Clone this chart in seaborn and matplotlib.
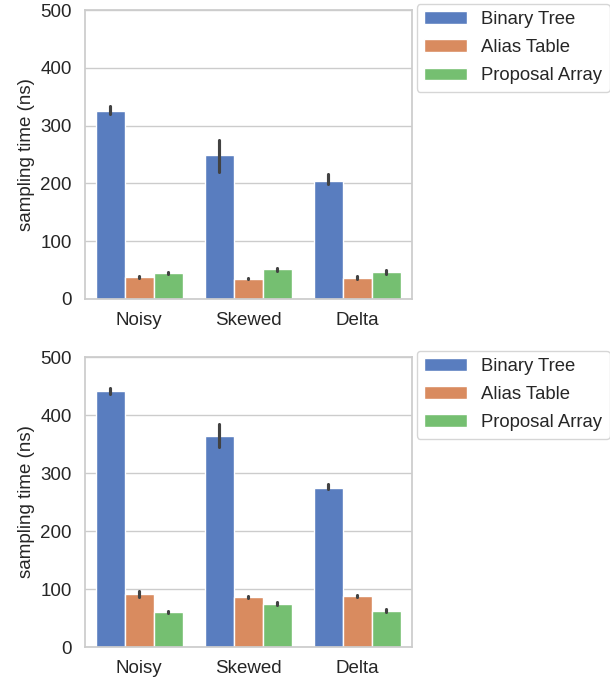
import numpy as np
import pandas as pd
import matplotlib
matplotlib.use("Agg")
import matplotlib.pyplot as plt
import seaborn as sns

distributions = ["Noisy", "Skewed", "Delta"]
methods = ["Binary Tree", "Alias Table", "Proposal Array"]

# three timing samples per (distribution, method), top panel
top_binary = [[320, 320, 335], [219, 253, 275], [199, 199, 217]]
top_alias = [[36, 38, 40], [34, 35, 36], [35, 37, 39]]
top_proposal = [[43, 45, 47], [49, 51, 53], [44, 47, 50]]

# bottom panel
bot_binary = [[437, 439, 447], [345, 362, 385], [272, 272, 281]]
bot_alias = [[87, 90, 96], [84, 86, 88], [86, 88, 90]]
bot_proposal = [[58, 60, 62], [73, 75, 77], [60, 63, 66]]

y_ticks = [0, 100, 200, 300, 400, 500]
y_label = "sampling time (ns)"


def make_frame(binary, alias, proposal):
    rows = []
    for m, series in zip(methods, [binary, alias, proposal]):
        for d, samples in zip(distributions, series):
            for s in samples:
                rows.append({"distribution": d, "method": m, "time": s})
    return pd.DataFrame(rows)


sns.set_theme(style="whitegrid", palette="muted")
plt.rcParams["font.family"] = ["Arial", "Liberation Sans", "DejaVu Sans"]

fig = plt.figure(figsize=(6.10, 6.84), dpi=100)
ax1 = fig.add_axes([0.139, 0.563, 0.536, 0.422])
ax2 = fig.add_axes([0.139, 0.054, 0.536, 0.424])

for ax, data in [(ax1, make_frame(top_binary, top_alias, top_proposal)),
                 (ax2, make_frame(bot_binary, bot_alias, bot_proposal))]:
    sns.barplot(data=data, x="distribution", y="time", hue="method",
                order=distributions, hue_order=methods,
                errorbar=("pi", 100), ax=ax)
    ax.set_ylim(0, 500)
    ax.set_yticks(y_ticks)
    ax.set_xlabel("")
    ax.set_ylabel(y_label, fontsize=13.5)
    ax.tick_params(axis="both", labelsize=13.5)
    ax.legend(loc="upper left", bbox_to_anchor=(1.015, 1.022), fontsize=13.3,
              borderaxespad=0.0, handlelength=2.3, labelspacing=0.6)

fig.savefig("out.png", dpi=100)
